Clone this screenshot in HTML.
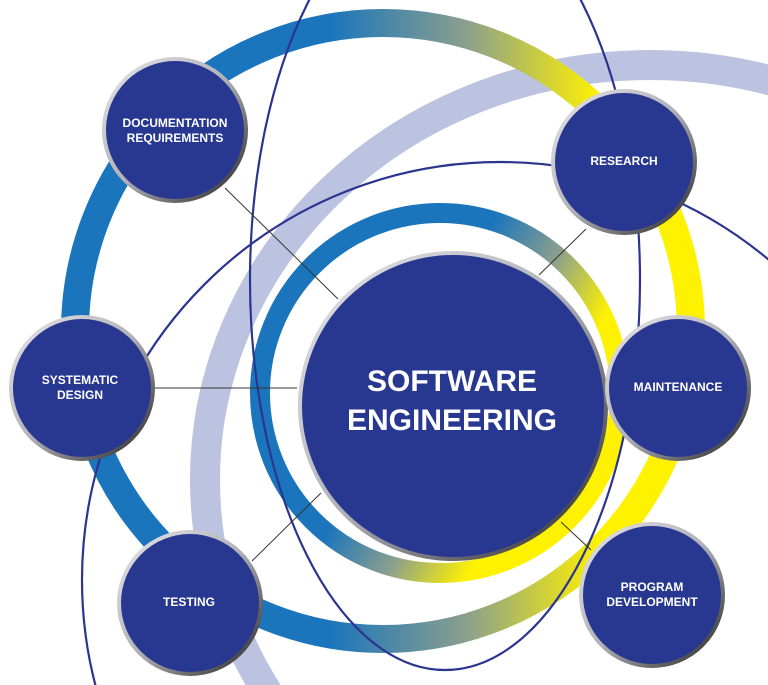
<!DOCTYPE html>
<html><head><meta charset="utf-8"><style>
html,body{margin:0;padding:0;background:#fff;width:768px;height:685px;overflow:hidden;}
svg{display:block;}
text{font-family:"Liberation Sans",sans-serif;font-weight:bold;fill:#fff;text-anchor:middle;}
</style></head><body>
<svg width="768" height="685" viewBox="0 0 768 685" xmlns="http://www.w3.org/2000/svg">
<defs>
<clipPath id="cp"><rect x="0" y="0" width="768" height="685"/></clipPath>
<linearGradient id="og" gradientUnits="userSpaceOnUse" x1="330" y1="0" x2="600" y2="0">
<stop offset="0" stop-color="#1b75bc"/><stop offset="0.5" stop-color="#8a9f8e"/><stop offset="1" stop-color="#fff200"/>
</linearGradient>
<linearGradient id="ig" gradientUnits="userSpaceOnUse" x1="475" y1="254" x2="603" y2="322">
<stop offset="0" stop-color="#1b75bc"/><stop offset="0.5" stop-color="#8a9f8e"/><stop offset="1" stop-color="#fff200"/>
</linearGradient>
<linearGradient id="bd" x1="0" y1="0" x2="1" y2="1">
<stop offset="0" stop-color="#e6e6ea"/><stop offset="0.5" stop-color="#b0b0b8"/><stop offset="1" stop-color="#222"/>
</linearGradient>
</defs>
<g clip-path="url(#cp)">
<ellipse cx="650" cy="480" rx="445" ry="415" fill="none" stroke="#bcc3e0" stroke-width="30"/>
<rect x="650" y="480" width="118" height="205" fill="#fff"/>
<circle cx="383" cy="331" r="308" fill="none" stroke="url(#og)" stroke-width="28"/>
<circle cx="440" cy="393" r="180" fill="none" stroke="url(#ig)" stroke-width="20"/>
<g fill="none" stroke="#2b3590" stroke-width="2.2">
<ellipse cx="445" cy="280" rx="195" ry="390"/>
<circle cx="500" cy="580" r="418"/>
</g>
<g stroke="#333" stroke-width="1">
<line x1="225" y1="188" x2="338" y2="299"/>
<line x1="586" y1="229" x2="539" y2="275"/>
<line x1="154" y1="388" x2="297" y2="388"/>
<line x1="252" y1="561" x2="321" y2="493"/>
<line x1="561" y1="522" x2="591" y2="550"/>
</g>
<g fill="#283891" stroke="url(#bd)" stroke-width="4">
<circle cx="453" cy="406" r="153"/>
<circle cx="175" cy="130" r="71"/>
<circle cx="624" cy="162" r="71"/>
<circle cx="82" cy="388" r="71"/>
<circle cx="678" cy="388" r="71"/>
<circle cx="190" cy="603" r="71"/>
<circle cx="652" cy="595" r="71"/>
</g>
</g>
<text x="452" y="391" font-size="30">SOFTWARE</text>
<text x="452" y="430" font-size="30">ENGINEERING</text>
<g font-size="12">
<text x="175" y="127">DOCUMENTATION</text>
<text x="175" y="142">REQUIREMENTS</text>
<text x="624" y="165">RESEARCH</text>
<text x="80" y="384">SYSTEMATIC</text>
<text x="80" y="399">DESIGN</text>
<text x="678" y="391">MAINTENANCE</text>
<text x="189" y="606">TESTING</text>
<text x="652" y="591">PROGRAM</text>
<text x="652" y="606">DEVELOPMENT</text>
</g>
</svg>
</body></html>
